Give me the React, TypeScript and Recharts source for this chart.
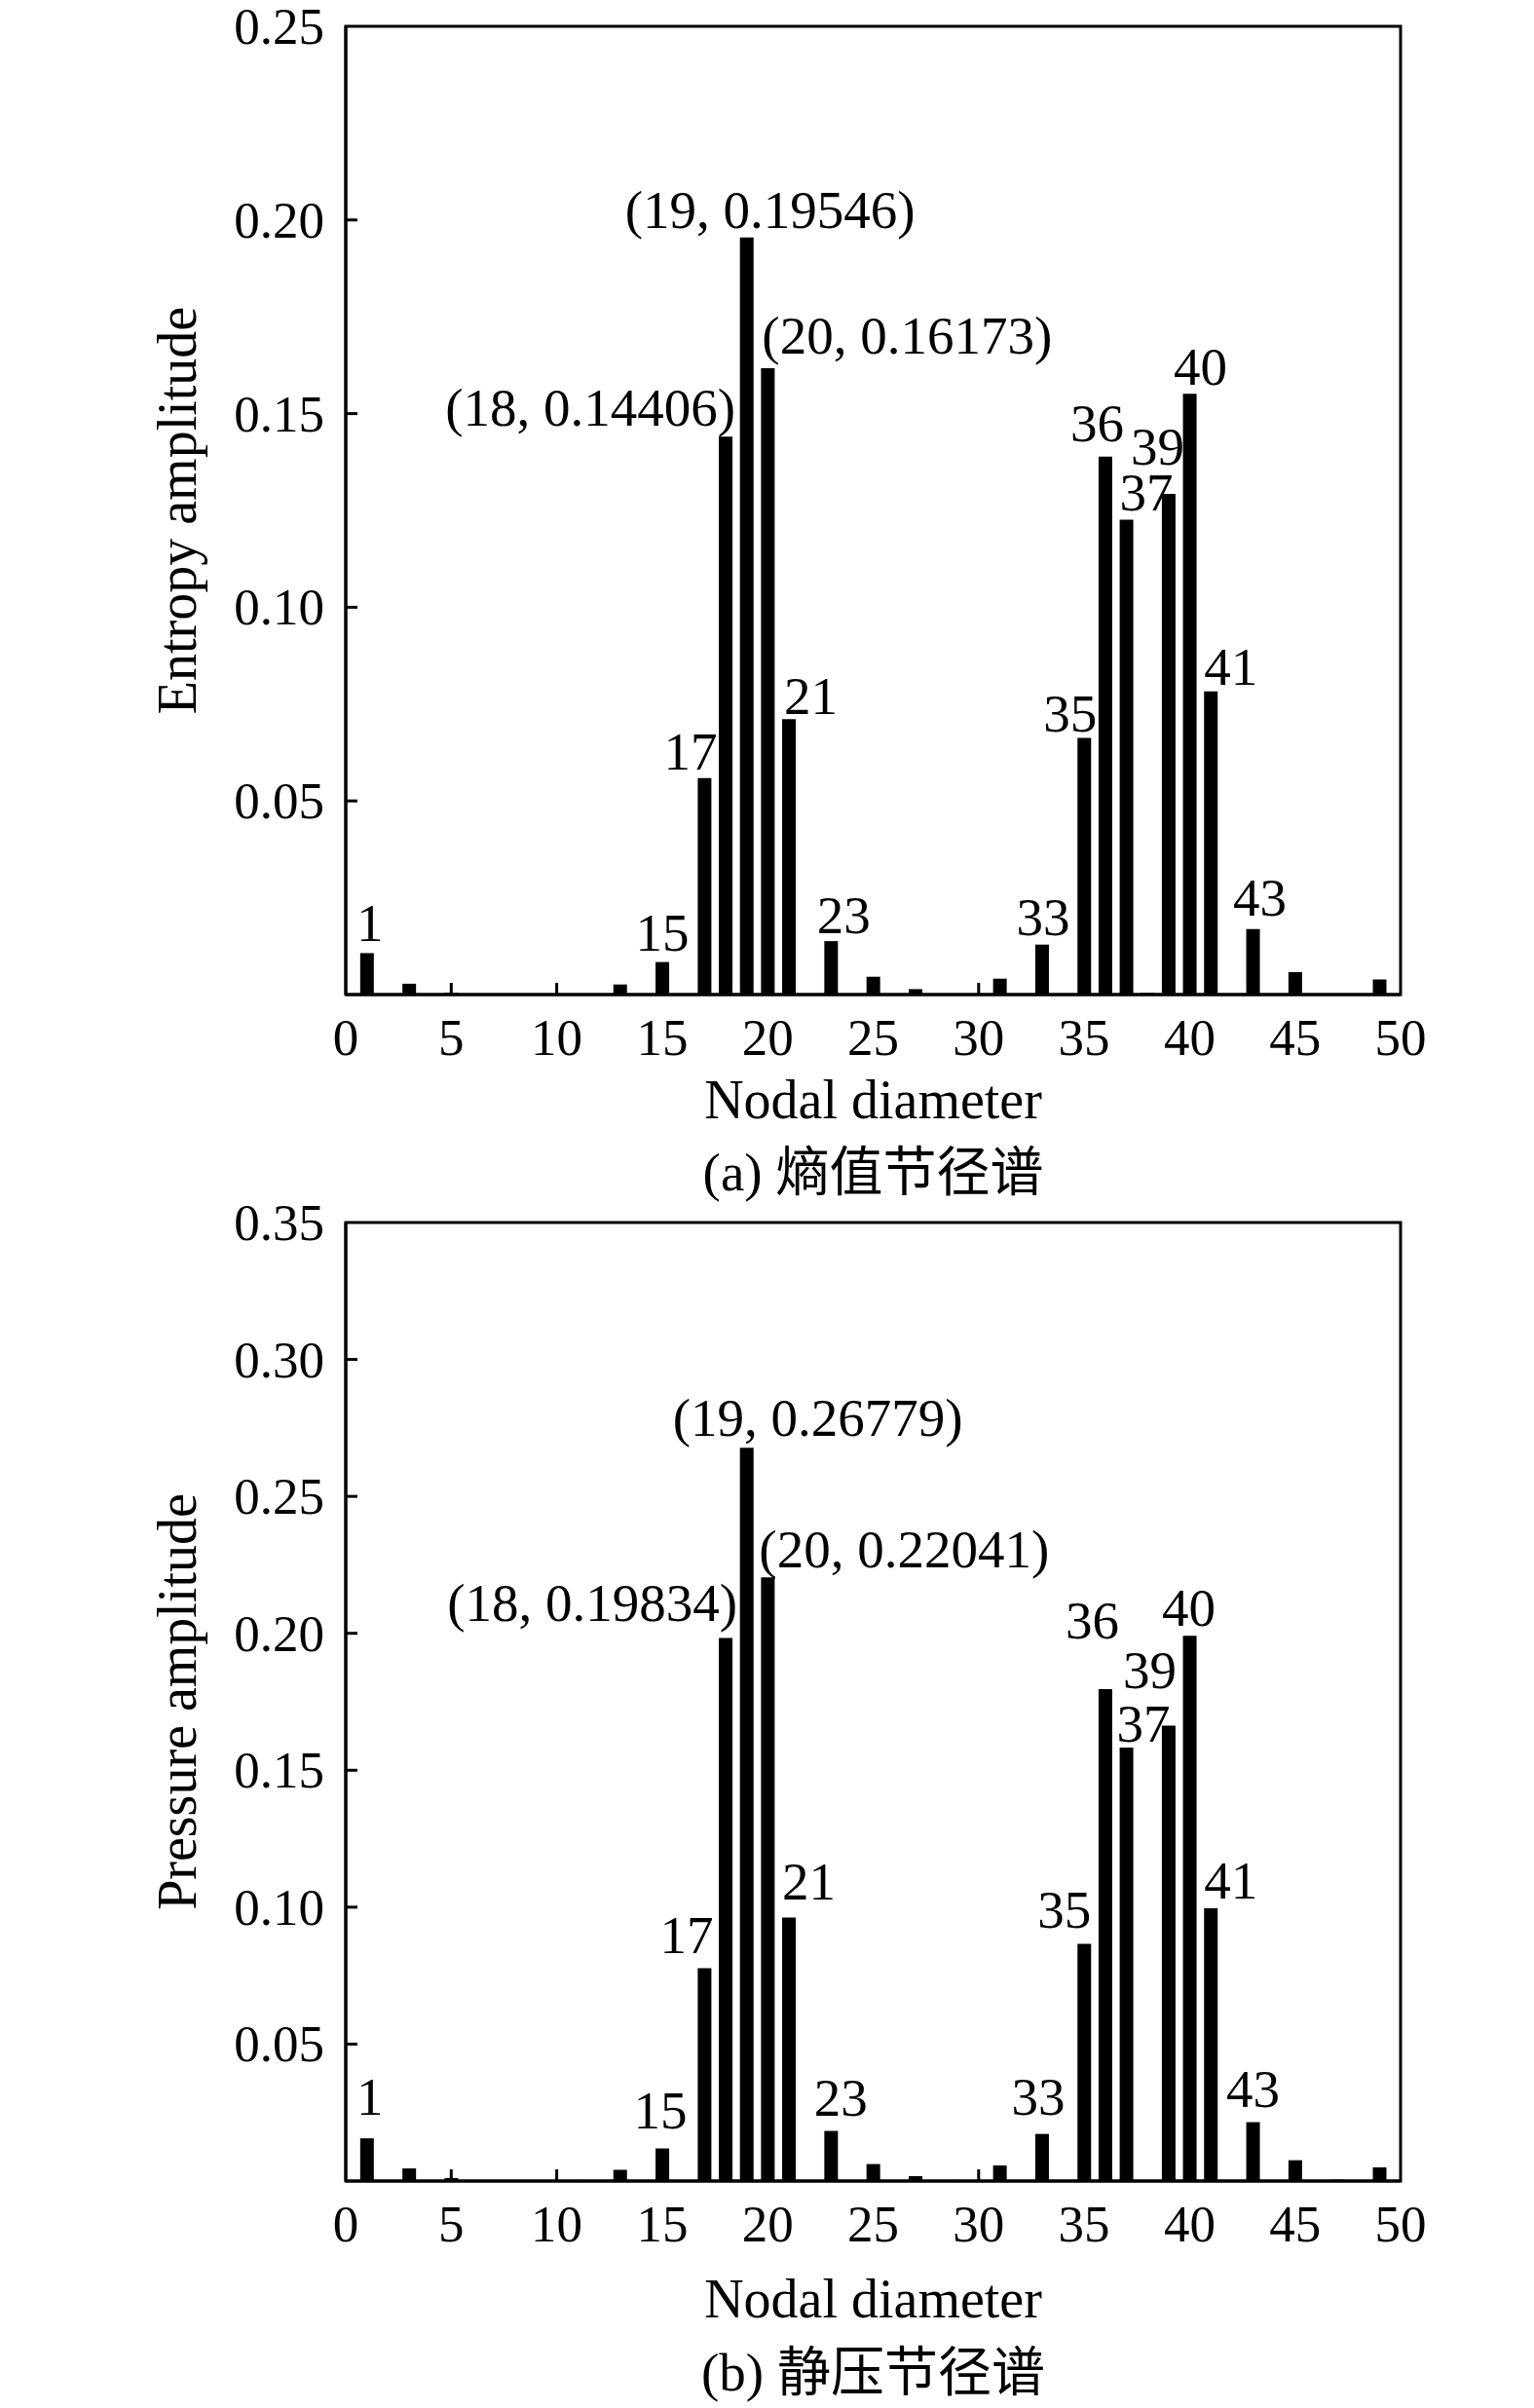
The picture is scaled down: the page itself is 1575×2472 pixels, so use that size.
import React from 'react';
import { BarChart, Bar, XAxis, YAxis, ReferenceArea, LabelList } from 'recharts';

// nodal diameters that carry a bar (same for both spectra)
const nodalDiameters = [1, 3, 5, 7, 9, 11, 13, 15, 17, 18, 19, 20, 21, 23, 25, 27, 29, 31, 33, 35, 36, 37, 38, 39, 40, 41, 43, 45, 47, 49];

// (a) entropy amplitude
const entropyAmp = [0.0107, 0.0028, 0.0005, 0.0002, 0, 0.0002, 0.0026, 0.0084, 0.0559, 0.14406, 0.19546, 0.16173, 0.0711, 0.0138, 0.0046, 0.0014, 0.0002, 0.0041, 0.0129, 0.0663, 0.1389, 0.1226, 0.0004, 0.1293, 0.1551, 0.0783, 0.0169, 0.0058, 0.0002, 0.0039];

// (b) static pressure amplitude
const pressureAmp = [0.0156, 0.0046, 0.0011, 0.0004, 0, 0.0004, 0.0041, 0.0119, 0.0777, 0.19834, 0.26779, 0.22041, 0.0962, 0.0183, 0.0062, 0.0018, 0.0004, 0.0057, 0.0172, 0.0866, 0.1796, 0.1583, 0, 0.1663, 0.1991, 0.0996, 0.0215, 0.0076, 0.0005, 0.005];

const xTicks = [0, 5, 10, 15, 20, 25, 30, 35, 40, 45, 50];
const entropyTicks = [0.05, 0.1, 0.15, 0.2, 0.25];
const pressureTicks = [0.05, 0.1, 0.15, 0.2, 0.25, 0.3, 0.35];

// these bars are annotated with "(nd, value)" instead of just nd
const pointLabelled = [18, 19, 20];

const SERIF = "'Liberation Serif', 'Times New Roman', 'Noto Sans CJK SC', serif";

type Anchor = 'start' | 'middle' | 'end';
// [text anchor relative to bar, dx, gap above bar top]
type Place = [Anchor, number, number];

const entropyPlaces: Record<number, Place> = {
    1: ['middle', 3, 12],
    15: ['middle', 0, 12],
    17: ['end', 6, 9],
    18: ['end', 3, 11],
    19: ['middle', 24, 10],
    20: ['start', 1, 15],
    21: ['start', 2, 5],
    23: ['middle', 13, 8],
    33: ['middle', 1, 10],
    35: ['end', 6, 6],
    36: ['end', 12, 16],
    37: ['start', 0, 10],
    39: ['end', 9, 30],
    40: ['middle', 11, 9],
    41: ['start', 0, 7],
    43: ['middle', 7, 14],
};

const pressurePlaces: Record<number, Place> = {
    1: ['middle', 3, 24],
    15: ['middle', -2, 21],
    17: ['end', 2, 16],
    18: ['end', 5, 17],
    19: ['middle', 73, 12],
    20: ['start', -2, 10],
    21: ['start', 0, 19],
    23: ['middle', 10, 16],
    33: ['middle', -4, 20],
    35: ['end', 0, 17],
    36: ['end', 7, 52],
    37: ['start', -3, 6],
    39: ['end', 1, 38],
    40: ['middle', -1, 10],
    41: ['start', 0, 10],
    43: ['middle', 0, 16],
};

const XTick = (props: any) => {
    const { x, y, payload } = props;
    const v = payload.value;
    const inner = v > 0 && v < 50;
    return (
        <g>
            {inner && <line x1={x} x2={x} y1={y} y2={y - 12} stroke="#000" strokeWidth={3} />}
            <text x={x} y={y + 62} textAnchor="middle" fontSize={53} fontFamily={SERIF} fill="#000">
                {v}
            </text>
        </g>
    );
};

const makeYTick = (max: number) => (props: any) => {
    const { x, y, payload } = props;
    const v = payload.value;
    return (
        <g>
            {v < max && <line x1={x} x2={x + 12} y1={y} y2={y} stroke="#000" strokeWidth={3} />}
            <text x={x - 22} y={y + 18} textAnchor="end" fontSize={53} fontFamily={SERIF} fill="#000">
                {v.toFixed(2)}
            </text>
        </g>
    );
};

interface SpectrumProps {
    top: number;
    height: number;
    bottom: number;
    values: number[];
    ticks: number[];
    max: number;
    yTitle: string;
    caption: string;
    places: Record<number, Place>;
    titleGap: number;
    captionGap: number;
}

const Spectrum: React.FC<SpectrumProps> = ({ top, height, bottom, values, ticks, max, yTitle, caption, places, titleGap, captionGap }) => {
    const data = nodalDiameters.map((nd, i) => ({ nd, amp: values[i] }));
    const ampOf = new Map(data.map(d => [d.nd, d.amp]));

    const renderBarLabel = (props: any) => {
        const nd = Number(props.value);
        const place = places[nd];
        if (!place) return null;
        const [anchor, dx, gap] = place;
        const x = Number(props.x);
        const y = Number(props.y);
        const w = Number(props.width);
        const bx = anchor === 'start' ? x : anchor === 'end' ? x + w : x + w / 2;
        const text = pointLabelled.includes(nd) ? `(${nd}, ${(ampOf.get(nd) as number).toFixed(5)})` : String(nd);
        return (
            <text x={bx + dx} y={y - gap} textAnchor={anchor} fontSize={55} fontFamily={SERIF} fill="#000">
                {text}
            </text>
        );
    };

    const xTitle = (props: any) => {
        const vb = props.viewBox || {};
        const cx = vb.x + vb.width / 2;
        return (
            <g>
                <text x={cx} y={vb.y + titleGap} textAnchor="middle" fontSize={56} fontFamily={SERIF} fill="#000">
                    Nodal diameter
                </text>
                <text x={cx} y={vb.y + captionGap} textAnchor="middle" fontSize={55} fontFamily={SERIF} fill="#000">
                    {caption}
                </text>
            </g>
        );
    };

    const yLabel = (props: any) => {
        const vb = props.viewBox || {};
        const cx = vb.x + 201;
        const cy = vb.y + vb.height / 2;
        return (
            <text
                x={cx}
                y={cy}
                transform={`rotate(-90, ${cx}, ${cy})`}
                textAnchor="middle"
                fontSize={56}
                fontFamily={SERIF}
                fill="#000"
            >
                {yTitle}
            </text>
        );
    };

    return (
        <div style={{ position: 'absolute', left: 0, top, width: 1575, height }}>
            <BarChart width={1575} height={height} data={data} margin={{ top: 27, right: 137, bottom: 0, left: 0 }}>
                <XAxis
                    dataKey="nd"
                    type="number"
                    domain={[0, 50]}
                    ticks={xTicks}
                    interval={0}
                    height={bottom}
                    tickSize={0}
                    tickMargin={0}
                    tickLine={false}
                    axisLine={{ stroke: '#000', strokeWidth: 3 }}
                    tick={<XTick />}
                    label={{ content: xTitle }}
                    allowDataOverflow
                />
                <YAxis
                    type="number"
                    domain={[0, max]}
                    ticks={ticks}
                    interval={0}
                    width={355}
                    tickSize={0}
                    tickMargin={0}
                    tickLine={false}
                    axisLine={{ stroke: '#000', strokeWidth: 3 }}
                    tick={makeYTick(max)}
                    label={{ content: yLabel }}
                    allowDataOverflow
                />
                {/* plot frame */}
                <ReferenceArea
                    x1={0}
                    x2={50}
                    y1={0}
                    y2={max}
                    fill="none"
                    fillOpacity={0}
                    stroke="#000"
                    strokeWidth={3}
                    ifOverflow="visible"
                />
                <Bar dataKey="amp" fill="#000" barSize={14} isAnimationActive={false}>
                    <LabelList dataKey="nd" content={renderBarLabel} />
                </Bar>
            </BarChart>
        </div>
    );
};

export default function App() {
    return (
        <div style={{ position: 'absolute', left: 0, top: 0, width: 1575, height: 2472, background: '#fff' }}>
            <style>{'svg { overflow: visible; }'}</style>
            <Spectrum
                top={0}
                height={1270}
                bottom={249}
                values={entropyAmp}
                ticks={entropyTicks}
                max={0.25}
                yTitle="Entropy amplitude"
                caption="(a) 熵值节径谱"
                places={entropyPlaces}
                titleGap={127}
                captionGap={201}
            />
            <Spectrum
                top={1228}
                height={1244}
                bottom={233}
                values={pressureAmp}
                ticks={pressureTicks}
                max={0.35}
                yTitle="Pressure amplitude"
                caption="(b) 静压节径谱"
                places={pressurePlaces}
                titleGap={140}
                captionGap={215}
            />
        </div>
    );
}
